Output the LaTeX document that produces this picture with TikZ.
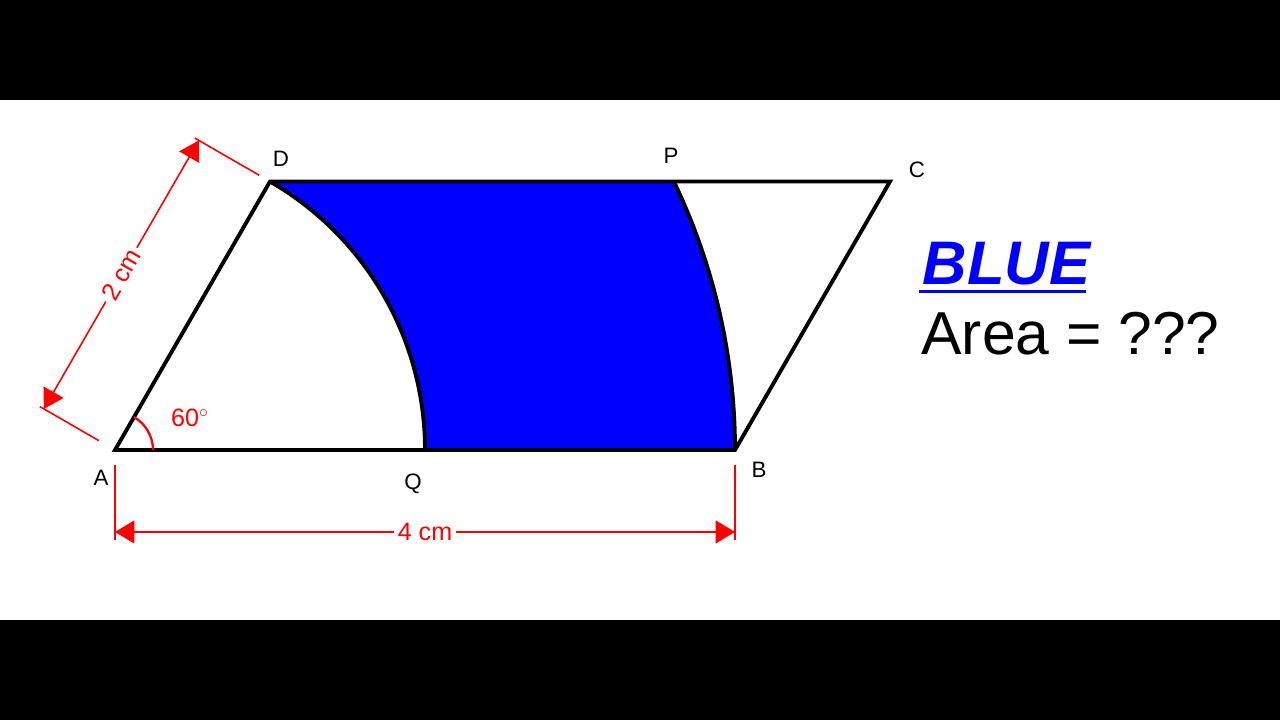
\documentclass[tikz,border=0pt]{standalone}
\usepackage{fontspec}
\setmainfont{Liberation Sans}
\usetikzlibrary{calc}
\usetikzlibrary{arrows.meta, positioning}
\tikzset{>={Triangle[length=11pt,width=13pt]}}
\tikzset{dimline/.style={red, line width=0.9pt},
  lbl/.style={font=\fontsize{12.7}{15}\selectfont, inner sep=0pt},
  redlbl/.style={red, font=\fontsize{14.3}{16}\selectfont},
  edge/.style={line width=2.2pt}}

\begin{document}
\begin{tikzpicture}[x=3.1cm, y=3.1cm]
          \useasboundingbox (-0.742,-1.742) rectangle (7.516,2.903);
          \fill [white] (-0.742,-1.742) rectangle (7.516,2.903);
          \fill [black] (-0.742,2.258) rectangle (7.516,2.903);
          \fill [black] (-0.742,-1.742) rectangle (7.516,-1.097);
          \coordinate (A) at (0,0);
          \coordinate (B) at (4,0);
          \coordinate (D) at (60:2);
          \coordinate (C) at ($(D)+(4,0)$);
          \coordinate (Q) at (2,0);
          \coordinate (P) at (25.659:4);
          % shaded part
          \fill [blue] (D) -- (P) arc [start angle=25.659, end angle=0, radius=4] -- (Q) arc [start angle=0, end angle=60, radius=2] -- cycle;
          \draw [edge] (A) -- (B) -- (C) -- (D) -- cycle;
          \draw [edge] (Q) arc [start angle=0, end angle=60, radius=2];
          \draw [edge] (B) arc [start angle=0, end angle=25.659, radius=4];
          \draw [red, line width=1.3pt] (0.245,0) arc [start angle=0, end angle=60, radius=0.245];
          \node [redlbl] (ang) at (0.484,0.206) {60$^{\circ}$};
          \node [lbl] (lA) at (-0.09,-0.18) {A};
          \node [lbl] (lB) at (4.155,-0.13) {B};
          \node [lbl] (lC) at (5.174,1.806) {C};
          \node [lbl] (lD) at (1.071,1.877) {D};
          \node [lbl] (lP) at (3.587,1.897) {P};
          \node [lbl] (lQ) at (1.923,-0.219) {Q};
          % side AD
          \coordinate (a1) at ($(A)+(150:0.12)$);
          \coordinate (a2) at ($(A)+(150:0.56)$);
          \coordinate (d1) at ($(D)+(150:0.08)$);
          \coordinate (d2) at ($(D)+(150:0.56)$);
          \coordinate (aa) at ($(A)+(150:0.53)$);
          \coordinate (dd) at ($(D)+(150:0.53)$);
          \draw [dimline] (a1) -- (a2);
          \draw [dimline] (d1) -- (d2);
          \node [redlbl, rotate=60, inner sep=2pt] (len2) at ($(aa)!0.5!(dd)$) {2 cm};
          \draw [dimline, ->] (len2) -- (aa);
          \draw [dimline, ->] (len2) -- (dd);
          % side AB
          \coordinate (a3) at (0,-0.097);
          \coordinate (a4) at (0,-0.58);
          \coordinate (b3) at (4,-0.097);
          \coordinate (b4) at (4,-0.58);
          \coordinate (ab) at (0,-0.529);
          \coordinate (bb) at (4,-0.529);
          \draw [dimline] (a3) -- (a4);
          \draw [dimline] (b3) -- (b4);
          \node [redlbl, inner sep=2pt] (len4) at ($(ab)!0.5!(bb)$) {4 cm};
          \draw [dimline, ->] (len4) -- (ab);
          \draw [dimline, ->] (len4) -- (bb);
          % question
          \node [anchor=base west, inner sep=0pt, text=blue, font=\fontsize{35}{40}\selectfont\bfseries\itshape] (blue) at (5.21,1.065) {BLUE};
          \draw [blue, line width=1.6pt] ($(blue.base west)+(-0.02,-0.045)$) -- ($(blue.base east)+(-0.03,-0.045)$);
          \node [anchor=base west, inner sep=0pt, font=\fontsize{34.5}{38}\selectfont] (area) at (5.2,0.613) {Area = ???};
        \end{tikzpicture}
\end{document}
